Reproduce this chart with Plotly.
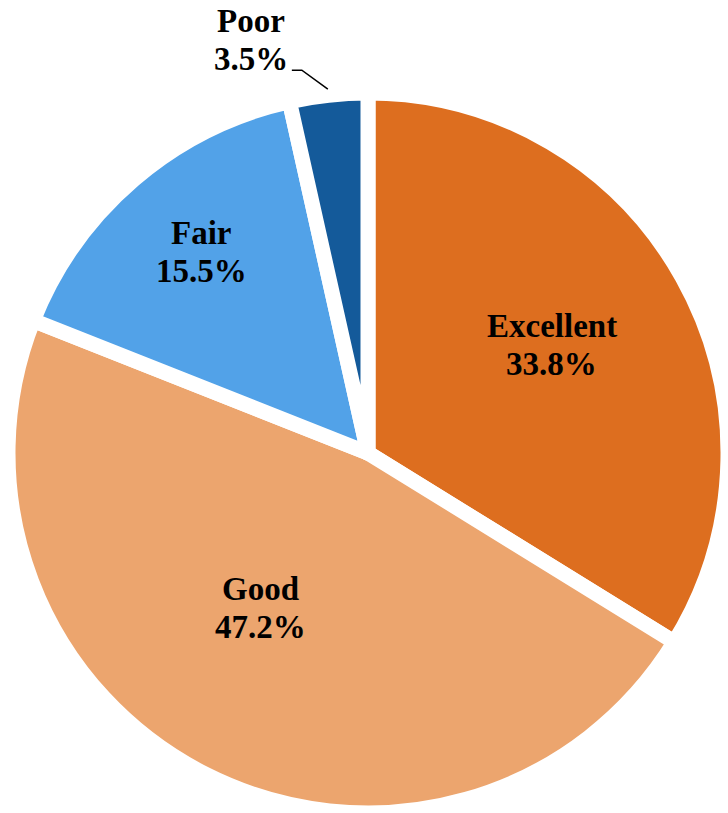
import math
import plotly.graph_objects as go

# Survey ratings and their shares (%)
categories = ["Excellent", "Good", "Fair", "Poor"]
shares = [33.8, 47.2, 15.5, 3.5]
colors = ["#DD6E1F", "#ECA56E", "#52A2E8", "#145A9A"]

W, H = 728, 813

# Pie placement in pixels: centre and radius, plus the white separator width
cx, cy, R = 368, 453, 360
gap = 15

dom_x = [(cx - R) / W, (cx + R) / W]
dom_y = [(H - cy - R) / H, (H - cy + R) / H]

fig = go.Figure(
    go.Pie(
        labels=categories,
        values=shares,
        sort=False,
        direction="clockwise",
        rotation=0,
        marker=dict(colors=colors, line=dict(color="white", width=gap)),
        textinfo="none",
        hoverinfo="label+percent",
        domain=dict(x=dom_x, y=dom_y),
        showlegend=False,
    )
)

# Mid-angle of each slice, in degrees clockwise from 12 o'clock
total = sum(shares)
mids = []
acc = 0.0
for v in shares:
    mids.append((acc + v / 2) / total * 360.0)
    acc += v


def polar_px(angle_deg, radius):
    a = math.radians(angle_deg)
    return cx + radius * math.sin(a), cy - radius * math.cos(a)


def to_paper(px, py):
    return px / W, 1 - py / H


# Label placement per slice: (distance from centre in px, angular nudge in degrees)
label_place = {
    "Excellent": (213, -1.2),
    "Good": (189, 8.1),
    "Fair": (261, 0.8),
    "Poor": (429, -9.5),
}

label_font = dict(family="Liberation Serif", size=33, color="black", weight="bold")
line_step = 38  # px between the name line and the value line

for name, val, mid in zip(categories, shares, mids):
    r, nudge = label_place[name]
    px, py = polar_px(mid + nudge, r)
    for text, dy in ((name, -line_step / 2), (f"{val:.1f}%", line_step / 2)):
        x, y = to_paper(px, py + dy)
        fig.add_annotation(
            x=x, y=y, xref="paper", yref="paper",
            text=text,
            showarrow=False,
            xanchor="center", yanchor="middle",
            font=label_font,
        )

# Leader line from the outside "Poor" label to its slice
poor_mid = mids[categories.index("Poor")]
ex, ey = polar_px(poor_mid, R + 6)
kx, ky = ex - 26, ey - 19
sx, sy = kx - 10, ky
pts = [to_paper(sx, sy), to_paper(kx, ky), to_paper(ex, ey)]
path = "M {:.5f},{:.5f} L {:.5f},{:.5f} L {:.5f},{:.5f}".format(*pts[0], *pts[1], *pts[2])
fig.add_shape(type="path", path=path, xref="paper", yref="paper",
              line=dict(color="black", width=1.5))

fig.update_layout(
    width=W, height=H,
    margin=dict(l=0, r=0, t=0, b=0),
    paper_bgcolor="white",
    plot_bgcolor="white",
)

fig.write_html("out.html")
